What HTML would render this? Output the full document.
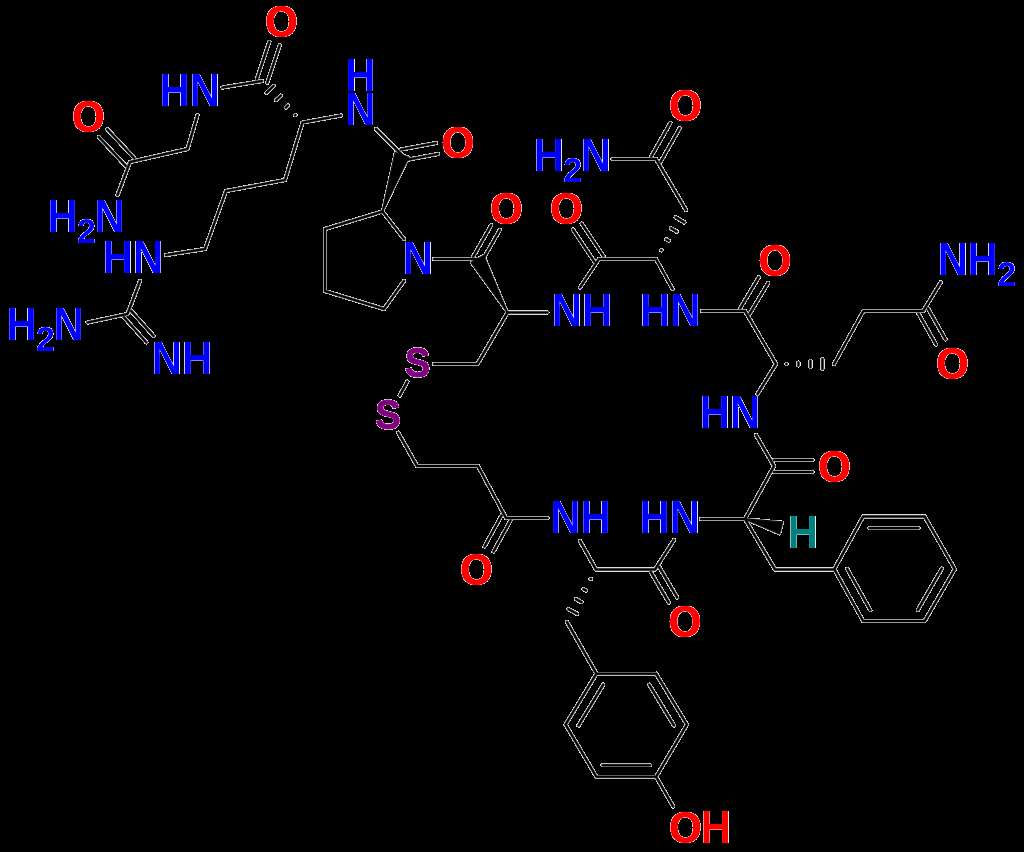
<!DOCTYPE html><html><head><meta charset="utf-8"><style>html,body{margin:0;padding:0;background:#000;}svg{display:block}</style></head><body>
<svg width="1024" height="852" viewBox="0 0 1024 852">
<rect width="1024" height="852" fill="#000"/>
<defs><filter id="aa" x="0" y="0" width="1024" height="852" filterUnits="userSpaceOnUse" color-interpolation-filters="sRGB"><feComponentTransfer in="SourceAlpha" result="m"><feFuncA type="table" tableValues="0 0 0.960 0.940 0.920 0.900 0.880 0.860 0.840 0.820 0.800 0.780 0.760 0.740 0.720 0.700 0.680 0.660 0.640 0.620 0.600 0.580 0.560 0.540 0.520 0.500 0.480 0.460 0.440 0.420 0.400 0.380 0.360 0.340 0.320 0.300 0.280 0.260 0.240 0.220 0.200 0.180 0.160 0.140 0.120 0.100 0.080 0.060 0.040 0.020 0"/></feComponentTransfer><feFlood flood-color="#ffffff" result="fl"/><feComposite in="fl" in2="m" operator="in" result="w"/><feComposite in="SourceGraphic" in2="w" operator="arithmetic" k1="0" k2="1" k3="1" k4="0"/></filter></defs>
<g filter="url(#aa)" stroke-linecap="round" stroke-linejoin="round" fill="none">
<g stroke-opacity="0.5"><path d="M130 162L187.5 149M187.5 149L197.5 115M130 162L117.5 195M134.2 158.1L107.2 129.1M125.8 165.9L98.8 136.9M222.5 87.5L262 81M267.2 82.7L279.7 45.2M256.8 79.3L269.3 41.8M302.5 122.5L341 115.5M376 129L402 155M403 160.4L438 153.9M401 149.6L436 143.1M302.5 122.5L285 180M285 180L226 191M226 191L205 249M205 249L166 255M140 281L127.5 314M127.5 314L87.5 322.5M123.9 317.2L146.4 342.4M131.1 310.8L153.6 336M382.5 211.5L325 229M325 229L325 291M325 291L384 309M384 309L404 281M382.5 211.5L404 239M434 259L477.5 259M481.8 261.4L499.8 229.9M473.2 256.6L491.2 225.1M507.5 312.5L547.5 312.5M507.5 312.5L477.5 364M477.5 364L434 364M407.3 381.6L399.7 395.5M398.2 432.7L417 466M417 466L478 466M478 466L506 518M501.5 515.5L484.5 546.5M510.5 520.5L493.5 551.5M506 518L547.5 518M580 541L596 569.5M596 569.5L655 569.5M650.8 572L668.8 602.5M659.2 567L677.2 597.5M655 569.5L674 540M567 622L596.4 673.7M596.4 673.7L656.1 673.7M656.1 673.7L686.9 724.6M686.9 724.6L656.1 776.8M656.1 776.8L596.4 776.8M596.4 776.8L565.6 724.6M565.6 724.6L596.4 673.7M578.5 725.5L603.2 684.7M649.3 684.7L674 725.5M650.1 765.3L602.4 765.3M656.1 776.8L673.2 806.4M701 519L745 519M745 519L775 569.5M775 569.5L834.3 569.2M834.3 569.2L863.1 516.6M863.1 516.6L924.7 516.6M924.7 516.6L954.8 569.2M954.8 569.2L924.7 621M924.7 621L863.1 621M863.1 621L834.3 569.2M869.3 528.1L918.5 528.1M847.2 568.8L870.3 610.2M941.8 568.6L917.8 610M745 519L774 466M774 472L812.5 472M774 460L812.5 460M774 466L756 435M757.5 394L776 364M776 364L745 311M834 364L863.4 311M863.4 311L923.2 311M923.2 311L940.7 282.4M918.5 313.7L936.1 344.7M927.9 308.3L945.5 339.3M749.7 313.8L768.2 282.8M740.3 308.2L758.8 277.2M745 311L702 311M672.5 289L656 259M656 259L599 259M603.4 256L581.7 223.6M594.6 262L572.9 229.6M599 259L580 287.5M686 210L656 159M656 159L612.5 159M660.7 161.6L679.7 128.1M651.3 156.4L670.3 122.9" stroke="#000" stroke-width="3.6"/><path d="M295.1 115.2L295.4 114.9M285.8 107.5L287.9 105.4M276.1 100.1L280.8 95.6M266.5 92.8L273.7 85.8M591 579L590.6 578.9M586.1 590.5L583.5 589.1M581.6 602.2L576 599.1M577.2 613.9L568.4 609.1M786.4 363.8L786.4 364.2M798.4 362.5L798.4 365.5M810.4 360.8L810.4 367.2M822.4 359L822.4 369M661.2 250.1L661.6 250.3M666.3 239.3L668.9 240.8M671 228.2L676.6 231.6M675.7 217.2L684.3 222.4" stroke="#000" stroke-width="3.6"/><path d="M382.5 211.5L408.6 157.3L395.4 152.7ZM507.5 312.5L483.6 255.6L471.4 262.4ZM745 519L779.5 533.8L782.5 522.2Z" stroke="#000" stroke-width="2.6" fill="none"/></g>
<path d="M130 162L187.5 149M187.5 149L197.5 115M130 162L117.5 195M134.2 158.1L107.2 129.1M125.8 165.9L98.8 136.9M222.5 87.5L262 81M267.2 82.7L279.7 45.2M256.8 79.3L269.3 41.8M302.5 122.5L341 115.5M376 129L402 155M403 160.4L438 153.9M401 149.6L436 143.1M302.5 122.5L285 180M285 180L226 191M226 191L205 249M205 249L166 255M140 281L127.5 314M127.5 314L87.5 322.5M123.9 317.2L146.4 342.4M131.1 310.8L153.6 336M382.5 211.5L325 229M325 229L325 291M325 291L384 309M384 309L404 281M382.5 211.5L404 239M434 259L477.5 259M481.8 261.4L499.8 229.9M473.2 256.6L491.2 225.1M507.5 312.5L547.5 312.5M507.5 312.5L477.5 364M477.5 364L434 364M407.3 381.6L399.7 395.5M398.2 432.7L417 466M417 466L478 466M478 466L506 518M501.5 515.5L484.5 546.5M510.5 520.5L493.5 551.5M506 518L547.5 518M580 541L596 569.5M596 569.5L655 569.5M650.8 572L668.8 602.5M659.2 567L677.2 597.5M655 569.5L674 540M567 622L596.4 673.7M596.4 673.7L656.1 673.7M656.1 673.7L686.9 724.6M686.9 724.6L656.1 776.8M656.1 776.8L596.4 776.8M596.4 776.8L565.6 724.6M565.6 724.6L596.4 673.7M578.5 725.5L603.2 684.7M649.3 684.7L674 725.5M650.1 765.3L602.4 765.3M656.1 776.8L673.2 806.4M701 519L745 519M745 519L775 569.5M775 569.5L834.3 569.2M834.3 569.2L863.1 516.6M863.1 516.6L924.7 516.6M924.7 516.6L954.8 569.2M954.8 569.2L924.7 621M924.7 621L863.1 621M863.1 621L834.3 569.2M869.3 528.1L918.5 528.1M847.2 568.8L870.3 610.2M941.8 568.6L917.8 610M745 519L774 466M774 472L812.5 472M774 460L812.5 460M774 466L756 435M757.5 394L776 364M776 364L745 311M834 364L863.4 311M863.4 311L923.2 311M923.2 311L940.7 282.4M918.5 313.7L936.1 344.7M927.9 308.3L945.5 339.3M749.7 313.8L768.2 282.8M740.3 308.2L758.8 277.2M745 311L702 311M672.5 289L656 259M656 259L599 259M603.4 256L581.7 223.6M594.6 262L572.9 229.6M599 259L580 287.5M686 210L656 159M656 159L612.5 159M660.7 161.6L679.7 128.1M651.3 156.4L670.3 122.9" stroke="#000" stroke-width="2.0"/>
<path d="M295.1 115.2L295.4 114.9M285.8 107.5L287.9 105.4M276.1 100.1L280.8 95.6M266.5 92.8L273.7 85.8M591 579L590.6 578.9M586.1 590.5L583.5 589.1M581.6 602.2L576 599.1M577.2 613.9L568.4 609.1M786.4 363.8L786.4 364.2M798.4 362.5L798.4 365.5M810.4 360.8L810.4 367.2M822.4 359L822.4 369M661.2 250.1L661.6 250.3M666.3 239.3L668.9 240.8M671 228.2L676.6 231.6M675.7 217.2L684.3 222.4" stroke="#000" stroke-width="2.0"/>
<path d="M382.5 211.5L408.6 157.3L395.4 152.7ZM507.5 312.5L483.6 255.6L471.4 262.4ZM745 519L779.5 533.8L782.5 522.2Z" stroke="#000" stroke-width="1" fill="#000"/>
</g>
<g filter="url(#aa)" font-family="Liberation Sans" font-weight="bold">
<text transform="translate(71.8 131.5) scale(0.94 1.02)" font-size="44" fill="#ff0000">O</text>
<text transform="translate(73 131.5) scale(0.94 1.02)" font-size="44" fill="#ff0000">O</text>
<text transform="translate(264.8 37) scale(0.94 1.02)" font-size="44" fill="#ff0000">O</text>
<text transform="translate(266 37) scale(0.94 1.02)" font-size="44" fill="#ff0000">O</text>
<text transform="translate(441.3 157.5) scale(0.94 1.02)" font-size="44" fill="#ff0000">O</text>
<text transform="translate(442.5 157.5) scale(0.94 1.02)" font-size="44" fill="#ff0000">O</text>
<text transform="translate(489.8 223.5) scale(0.94 1.02)" font-size="44" fill="#ff0000">O</text>
<text transform="translate(491 223.5) scale(0.94 1.02)" font-size="44" fill="#ff0000">O</text>
<text transform="translate(549.8 224) scale(0.94 1.02)" font-size="44" fill="#ff0000">O</text>
<text transform="translate(551 224) scale(0.94 1.02)" font-size="44" fill="#ff0000">O</text>
<text transform="translate(668.8 121) scale(0.94 1.02)" font-size="44" fill="#ff0000">O</text>
<text transform="translate(670 121) scale(0.94 1.02)" font-size="44" fill="#ff0000">O</text>
<text transform="translate(758.3 275.5) scale(0.94 1.02)" font-size="44" fill="#ff0000">O</text>
<text transform="translate(759.5 275.5) scale(0.94 1.02)" font-size="44" fill="#ff0000">O</text>
<text transform="translate(935.8 378.5) scale(0.94 1.02)" font-size="44" fill="#ff0000">O</text>
<text transform="translate(937 378.5) scale(0.94 1.02)" font-size="44" fill="#ff0000">O</text>
<text transform="translate(817.8 481.5) scale(0.94 1.02)" font-size="44" fill="#ff0000">O</text>
<text transform="translate(819 481.5) scale(0.94 1.02)" font-size="44" fill="#ff0000">O</text>
<text transform="translate(459.8 584.5) scale(0.94 1.02)" font-size="44" fill="#ff0000">O</text>
<text transform="translate(461 584.5) scale(0.94 1.02)" font-size="44" fill="#ff0000">O</text>
<text transform="translate(668.3 636.5) scale(0.94 1.02)" font-size="44" fill="#ff0000">O</text>
<text transform="translate(669.5 636.5) scale(0.94 1.02)" font-size="44" fill="#ff0000">O</text>
<text transform="translate(668.8 842.6) scale(0.94 1.02)" font-size="44" fill="#ff0000">O</text>
<text transform="translate(670 842.6) scale(0.94 1.02)" font-size="44" fill="#ff0000">O</text>
<text transform="translate(700.7 842.6) scale(0.95 1.035)" font-size="44" fill="#ff0000">H</text>
<text transform="translate(159.5 106.1) scale(0.95 1.035)" font-size="44" fill="#0000ff">H</text>
<text transform="translate(189.7 106.1) scale(0.95 1.035)" font-size="44" fill="#0000ff">N</text>
<text transform="translate(102.7 272.6) scale(0.95 1.035)" font-size="44" fill="#0000ff">H</text>
<text transform="translate(132.9 272.6) scale(0.95 1.035)" font-size="44" fill="#0000ff">N</text>
<text transform="translate(151.7 374.1) scale(0.95 1.035)" font-size="44" fill="#0000ff">N</text>
<text transform="translate(181.9 374.1) scale(0.95 1.035)" font-size="44" fill="#0000ff">H</text>
<text transform="translate(640 326.1) scale(0.95 1.035)" font-size="44" fill="#0000ff">H</text>
<text transform="translate(670.2 326.1) scale(0.95 1.035)" font-size="44" fill="#0000ff">N</text>
<text transform="translate(699.7 428.4) scale(0.95 1.035)" font-size="44" fill="#0000ff">H</text>
<text transform="translate(729.9 428.4) scale(0.95 1.035)" font-size="44" fill="#0000ff">N</text>
<text transform="translate(639.5 532.5) scale(0.95 1.035)" font-size="44" fill="#0000ff">H</text>
<text transform="translate(669.7 532.5) scale(0.95 1.035)" font-size="44" fill="#0000ff">N</text>
<text transform="translate(551.7 325.6) scale(0.95 1.035)" font-size="44" fill="#0000ff">N</text>
<text transform="translate(581.9 325.6) scale(0.95 1.035)" font-size="44" fill="#0000ff">H</text>
<text transform="translate(550.2 533) scale(0.95 1.035)" font-size="44" fill="#0000ff">N</text>
<text transform="translate(580.4 533) scale(0.95 1.035)" font-size="44" fill="#0000ff">H</text>
<text transform="translate(345.2 90.6) scale(0.95 1.035)" font-size="44" fill="#0000ff">H</text>
<text transform="translate(345.2 125.1) scale(0.95 1.035)" font-size="44" fill="#0000ff">N</text>
<text transform="translate(402.7 274.1) scale(0.95 1.035)" font-size="44" fill="#0000ff">N</text>
<text transform="translate(404.8 377.2) scale(0.87 0.975)" font-size="44" fill="#800080" stroke="#800080" stroke-width="0.9">S</text>
<text transform="translate(375.3 429) scale(0.87 0.975)" font-size="44" fill="#800080" stroke="#800080" stroke-width="0.9">S</text>
<text transform="translate(787.7 547.6) scale(0.95 1.035)" font-size="44" fill="#008080">H</text>
<text transform="translate(47.5 232) scale(0.95 1.035)" font-size="44" fill="#0000ff">H</text>
<text transform="translate(77.1 242.5) scale(1.0 1.03)" font-size="34" fill="#0000ff">2</text>
<text transform="translate(94.6 232) scale(0.95 1.035)" font-size="44" fill="#0000ff">N</text>
<text transform="translate(6.5 340.1) scale(0.95 1.035)" font-size="44" fill="#0000ff">H</text>
<text transform="translate(36.1 350.6) scale(1.0 1.03)" font-size="34" fill="#0000ff">2</text>
<text transform="translate(53.6 340.1) scale(0.95 1.035)" font-size="44" fill="#0000ff">N</text>
<text transform="translate(533.7 171.1) scale(0.95 1.035)" font-size="44" fill="#0000ff">H</text>
<text transform="translate(563.3 181.6) scale(1.0 1.03)" font-size="34" fill="#0000ff">2</text>
<text transform="translate(580.8 171.1) scale(0.95 1.035)" font-size="44" fill="#0000ff">N</text>
<text transform="translate(937.7 275.3) scale(0.95 1.035)" font-size="44" fill="#0000ff">N</text>
<text transform="translate(967.5 275.3) scale(0.95 1.035)" font-size="44" fill="#0000ff">H</text>
<text transform="translate(997.3 285.6) scale(1.0 1.03)" font-size="34" fill="#0000ff">2</text>
</g>
</svg></body></html>
